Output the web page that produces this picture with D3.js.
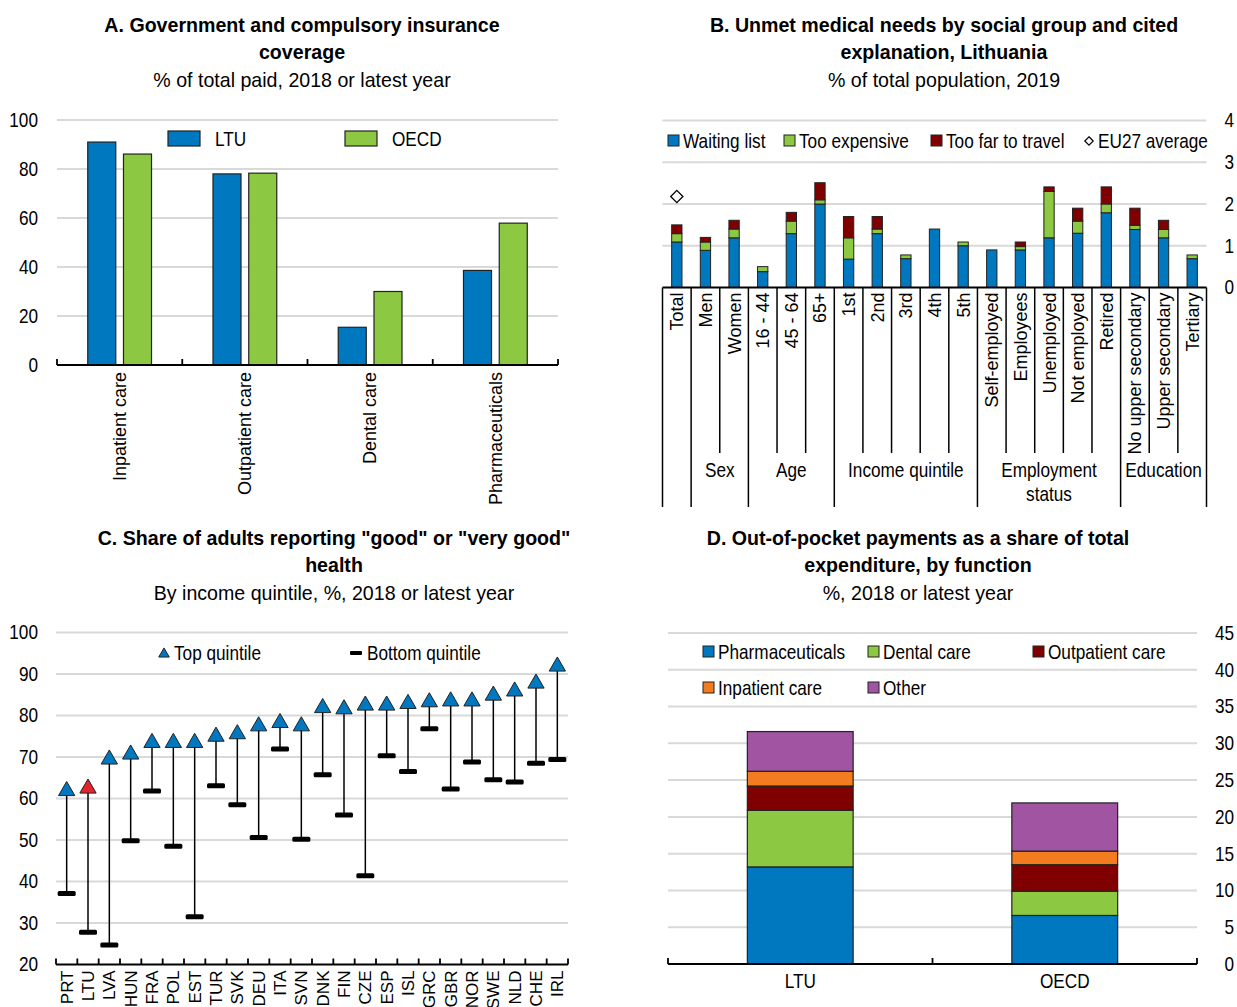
<!DOCTYPE html>
<html>
<head>
<meta charset="utf-8">
<script src="https://cdn.jsdelivr.net/npm/d3@7"></script>
<style>
  body { margin: 0; background: #fff; }
  text { font-family: "Liberation Sans", Arial, sans-serif; fill: #000; }
</style>
</head>
<body>
<svg id="chart" width="1237" height="1007"></svg>
<script>
// --------------------------------------------------------------
// Data

// Panel A
const aCategories = ['Inpatient care', 'Outpatient care', 'Dental care', 'Pharmaceuticals']
const aSeries = ['LTU', 'OECD']
const aLTU = [91, 78, 15.4, 38.6]
const aOECD = [86.1, 78.3, 30, 57.9]

// Panel B
const bCategories = ['Total', 'Men', 'Women', '16 - 44', '45 - 64', '65+', '1st', '2nd', '3rd', '4th', '5th',
  'Self-employed', 'Employees', 'Unemployed', 'Not employed', 'Retired',
  'No upper secondary', 'Upper secondary', 'Tertiary']
const bSeries = ['Waiting list', 'Too expensive', 'Too far to travel']
const bWaiting = [1.09, 0.89, 1.19, 0.38, 1.29, 2.0, 0.68, 1.29, 0.69, 1.4, 1.0, 0.9, 0.9, 1.19, 1.3, 1.79, 1.39, 1.19, 0.69]
const bExpensive = [0.2, 0.2, 0.21, 0.12, 0.3, 0.1, 0.51, 0.11, 0.09, 0, 0.09, 0, 0.08, 1.11, 0.29, 0.21, 0.1, 0.2, 0.09]
const bTravel = [0.21, 0.11, 0.21, 0, 0.21, 0.41, 0.51, 0.3, 0, 0, 0, 0, 0.11, 0.11, 0.31, 0.41, 0.41, 0.22, 0]
const bEU27 = [2.18]  // Total only
const bGroupLabels = ['', 'Sex', 'Age', 'Income quintile', 'Employment|status', 'Education']
const bGroupStarts = [0, 1, 3, 6, 11, 16, 19]

// Panel C
const cCountries = ['PRT', 'LTU', 'LVA', 'HUN', 'FRA', 'POL', 'EST', 'TUR', 'SVK', 'DEU', 'ITA', 'SVN',
  'DNK', 'FIN', 'CZE', 'ESP', 'ISL', 'GRC', 'GBR', 'NOR', 'SWE', 'NLD', 'CHE', 'IRL']
const cTop = [62.4, 63.0, 70.0, 71.2, 74.0, 74.0, 74.0, 75.5, 76.1, 78.0, 78.8, 78.0,
  82.4, 82.1, 83.0, 83.0, 83.4, 83.8, 84.0, 84.0, 85.4, 86.4, 88.3, 92.4]
const cBottom = [37.1, 27.8, 24.7, 49.8, 61.8, 48.5, 31.5, 63.1, 58.5, 50.6, 71.9, 50.2,
  65.7, 56.0, 41.4, 70.3, 66.5, 76.8, 62.3, 68.8, 64.5, 64.0, 68.5, 69.4]

// Panel D
const dCategories = ['LTU', 'OECD']
const dSeries = ['Pharmaceuticals', 'Dental care', 'Outpatient care', 'Inpatient care', 'Other']
const dPharma = [13.2, 6.6]
const dDental = [7.7, 3.3]
const dOutpatient = [3.3, 3.6]
const dInpatient = [2.0, 1.85]
const dOther = [5.4, 6.55]

// --------------------------------------------------------------
// Shared styles

const blue = '#0078c0'
const green = '#8cc841'
const darkRed = '#800000'
const orange = '#f47c20'
const purple = '#a154a1'
const red = '#e3242b'
const gridColor = '#d9d9d9'
const NARROW = 0.86 // squeeze regular sans into an "Arial Narrow" look

const svg = d3.select('#chart')

// move x/y into a transform and squeeze text horizontally
function narrow(sel, k) {
  sel.each(function () {
    const t = d3.select(this)
    const x = +t.attr('x') || 0
    const y = +t.attr('y') || 0
    t.attr('x', 0).attr('y', 0).attr('transform', `translate(${x},${y}) scale(${k},1)`)
  })
}

function label(g, x, y, txt, anchor) {
  return g.append('text').attr('x', x).attr('y', y).attr('font-size', 20)
    .attr('text-anchor', anchor || 'start').text(txt).call(narrow, NARROW)
}

function title(cx, y, lines, sub) {
  const g = svg.append('g')
  lines.forEach((l, i) => {
    g.append('text').attr('x', cx).attr('y', y + i * 27)
      .attr('text-anchor', 'middle').attr('font-size', 20).attr('font-weight', 'bold').text(l)
      .call(narrow, 0.98)
  })
  g.append('text').attr('x', cx).attr('y', y + lines.length * 27 + 1)
    .attr('text-anchor', 'middle').attr('font-size', 20).text(sub)
    .call(narrow, 0.98)
}

function gridlines(g, y, ticks, x0, x1) {
  g.append('g').selectAll('line').data(ticks).join('line')
    .attr('x1', x0).attr('x2', x1)
    .attr('y1', (d) => y(d)).attr('y2', (d) => y(d))
    .attr('stroke', gridColor).attr('stroke-width', 2)
}

// baseline with tick marks at the band boundaries
function baseline(g, x, y0, n, tickLen) {
  const [r0, r1] = x.range()
  g.append('line').attr('x1', r0).attr('x2', r1).attr('y1', y0).attr('y2', y0)
    .attr('stroke', '#000').attr('stroke-width', 2)
  g.append('g').selectAll('line').data(d3.range(n + 1)).join('line')
    .attr('x1', (i) => r0 + (i * (r1 - r0)) / n).attr('x2', (i) => r0 + (i * (r1 - r0)) / n)
    .attr('y1', y0).attr('y2', y0 - tickLen)
    .attr('stroke', '#000').attr('stroke-width', 1.8)
}

// --------------------------------------------------------------
// Panel A

title(302, 32, ['A. Government and compulsory insurance', 'coverage'], '% of total paid, 2018 or latest year')

const ax = d3.scaleBand().domain(aCategories).range([57, 558])
const axInner = d3.scaleBand().domain(aSeries).range([0, ax.bandwidth()]).paddingInner(0.216).paddingOuter(0.86)
const ay = d3.scaleLinear().domain([0, 100]).range([365, 120])
const gA = svg.append('g')

gridlines(gA, ay, d3.range(20, 101, 20), 57, 558)

const aRows = aCategories.map((c, i) => ({ cat: c, LTU: aLTU[i], OECD: aOECD[i] }))
gA.append('g').selectAll('g').data(aRows).join('g')
  .attr('transform', (d) => `translate(${ax(d.cat)},0)`)
  .selectAll('rect')
  .data((d) => aSeries.map((s) => ({ s: s, v: d[s] })))
  .join('rect')
  .attr('x', (d) => axInner(d.s))
  .attr('width', axInner.bandwidth())
  .attr('y', (d) => ay(d.v))
  .attr('height', (d) => ay(0) - ay(d.v))
  .attr('fill', (d) => (d.s === 'LTU' ? blue : green))
  .attr('stroke', '#222').attr('stroke-width', 1.2)

gA.append('g')
  .call(d3.axisLeft(ay).tickValues(d3.range(0, 101, 20)).tickSize(0))
  .call((g) => g.select('.domain').remove())
  .selectAll('text').attr('font-size', 20).attr('x', 38).attr('text-anchor', 'end')
  .call(narrow, NARROW)

gA.append('g').attr('transform', `translate(0,${ay(0)})`)
  .call(d3.axisBottom(ax).tickSize(0))
  .call((g) => g.select('.domain').remove())
  .selectAll('text').attr('font-size', 18)
  .attr('transform', 'rotate(-90)').attr('text-anchor', 'end')
  .attr('x', -7).attr('y', 0).attr('dy', '0.35em')

baseline(gA, ax, ay(0), aCategories.length, 6)

// legend A
aSeries.forEach((s, i) => {
  const lx = 168 + i * 177
  gA.append('rect').attr('x', lx).attr('y', 131).attr('width', 32).attr('height', 15)
    .attr('fill', i === 0 ? blue : green).attr('stroke', '#222').attr('stroke-width', 1.2)
  label(gA, lx + 47, 146, s)
})

// --------------------------------------------------------------
// Panel B

title(944, 32, ['B. Unmet medical needs by social group and cited', 'explanation, Lithuania'], '% of total population, 2019')

const bx = d3.scaleBand().domain(bCategories).range([662.5, 1206.5]).paddingInner(0.64).paddingOuter(0.32)
const by = d3.scaleLinear().domain([0, 4]).range([287.5, 120.5])
const gB = svg.append('g')

gridlines(gB, by, [1, 2, 3, 4], 662.5, 1206.5)

const bRows = bCategories.map((c, i) => ({
  cat: c, 'Waiting list': bWaiting[i], 'Too expensive': bExpensive[i], 'Too far to travel': bTravel[i]
}))
const bStack = d3.stack().keys(bSeries)(bRows)
const bColor = d3.scaleOrdinal().domain(bSeries).range([blue, green, darkRed])

gB.append('g').selectAll('g').data(bStack).join('g')
  .attr('fill', (d) => bColor(d.key))
  .selectAll('rect')
  .data((d) => d.filter((p) => p[1] - p[0] > 0))
  .join('rect')
  .attr('x', (d) => bx(d.data.cat))
  .attr('width', bx.bandwidth())
  .attr('y', (d) => by(d[1]))
  .attr('height', (d) => by(d[0]) - by(d[1]))
  .attr('stroke', '#222').attr('stroke-width', 1)

// EU27 diamond
gB.append('g').selectAll('path').data(bEU27).join('path')
  .attr('d', d3.symbol(d3.symbolDiamond2, 95))
  .attr('transform', (d, i) => `translate(${bx(bCategories[i]) + bx.bandwidth() / 2},${by(d)})`)
  .attr('fill', '#fff').attr('stroke', '#000').attr('stroke-width', 1.3)

// right axis B
gB.append('g').attr('transform', 'translate(1237,0)')
  .call(d3.axisLeft(by).ticks(4).tickSize(0))
  .call((g) => g.select('.domain').remove())
  .selectAll('text').attr('font-size', 20).attr('x', -3).attr('text-anchor', 'end')
  .call(narrow, NARROW)

// category labels B
gB.append('g').attr('transform', `translate(0,${by(0)})`)
  .call(d3.axisBottom(bx).tickSize(0))
  .call((g) => g.select('.domain').remove())
  .selectAll('text').attr('font-size', 18)
  .attr('transform', 'rotate(-90)').attr('text-anchor', 'end')
  .attr('x', -5).attr('y', 0).attr('dy', '0.36em')

// axis line + separators
gB.append('line').attr('x1', 662.5).attr('x2', 1206.5).attr('y1', by(0)).attr('y2', by(0))
  .attr('stroke', '#000').attr('stroke-width', 2)
const bStep = bx.step()
gB.append('g').selectAll('line').data(d3.range(bCategories.length + 1)).join('line')
  .attr('x1', (i) => 662.5 + i * bStep).attr('x2', (i) => 662.5 + i * bStep)
  .attr('y1', by(0))
  .attr('y2', (i) => (bGroupStarts.includes(i) ? 507 : 453))
  .attr('stroke', '#000').attr('stroke-width', 1.5)

// group labels
bGroupLabels.forEach((lab, gi) => {
  if (!lab) return
  const gx = 662.5 + ((bGroupStarts[gi] + bGroupStarts[gi + 1]) / 2) * bStep
  lab.split('|').forEach((part, li) => label(gB, gx, 477 + li * 24, part, 'middle'))
})

// legend B
const bLegendX = [668, 784, 931]
bSeries.forEach((s, i) => {
  gB.append('rect').attr('x', bLegendX[i]).attr('y', 135).attr('width', 11).attr('height', 11)
    .attr('fill', bColor(s)).attr('stroke', '#222').attr('stroke-width', 1)
  label(gB, bLegendX[i] + 15, 148, s)
})
gB.append('path').attr('d', d3.symbol(d3.symbolDiamond2, 45))
  .attr('transform', 'translate(1089,141)')
  .attr('fill', '#fff').attr('stroke', '#000').attr('stroke-width', 1.2)
label(gB, 1098, 148, 'EU27 average')

// --------------------------------------------------------------
// Panel C

title(334, 545, ['C. Share of adults reporting "good" or "very good"', 'health'], 'By income quintile, %, 2018 or latest year')

const cx = d3.scaleBand().domain(cCountries).range([56, 568])
const cy = d3.scaleLinear().domain([20, 100]).range([964.5, 632.5])
const gC = svg.append('g')

gridlines(gC, cy, d3.range(30, 101, 10), 56, 568)

gC.append('g')
  .call(d3.axisLeft(cy).tickValues(d3.range(20, 101, 10)).tickSize(0))
  .call((g) => g.select('.domain').remove())
  .selectAll('text').attr('font-size', 20).attr('x', 38).attr('text-anchor', 'end')
  .call(narrow, NARROW)

const cRows = cCountries.map((c, i) => ({ c: c, top: cTop[i], bottom: cBottom[i] }))
const cCenter = (d) => cx(d.c) + cx.bandwidth() / 2

gC.append('g').selectAll('line').data(cRows).join('line')
  .attr('x1', cCenter).attr('x2', cCenter)
  .attr('y1', (d) => cy(d.top)).attr('y2', (d) => cy(d.bottom))
  .attr('stroke', '#000').attr('stroke-width', 1.5)

gC.append('g').selectAll('rect').data(cRows).join('rect')
  .attr('x', (d) => cCenter(d) - 9).attr('y', (d) => cy(d.bottom) - 2.5)
  .attr('width', 18).attr('height', 5).attr('rx', 1.5)
  .attr('fill', '#000')

const triSize = 115
const triShift = Math.sqrt(triSize / (3 * Math.sqrt(3))) / 2
gC.append('g').selectAll('path').data(cRows).join('path')
  .attr('d', d3.symbol(d3.symbolTriangle, triSize))
  .attr('transform', (d) => `translate(${cCenter(d)},${cy(d.top) + triShift})`)
  .attr('fill', (d) => (d.c === 'LTU' ? red : blue))
  .attr('stroke', '#222').attr('stroke-width', 1)

gC.append('g').attr('transform', `translate(0,${cy(20)})`)
  .call(d3.axisBottom(cx).tickSize(0))
  .call((g) => g.select('.domain').remove())
  .selectAll('text').attr('font-size', 17)
  .attr('transform', 'rotate(-90)').attr('text-anchor', 'end')
  .attr('x', -6).attr('y', 0).attr('dy', '0.36em')

baseline(gC, cx, cy(20), cCountries.length, 6)

// legend C
gC.append('path').attr('d', d3.symbol(d3.symbolTriangle, 48))
  .attr('transform', 'translate(164,654)')
  .attr('fill', blue).attr('stroke', '#222').attr('stroke-width', 1)
label(gC, 174, 660, 'Top quintile')
gC.append('rect').attr('x', 350).attr('y', 651).attr('width', 12).attr('height', 4).attr('rx', 1).attr('fill', '#000')
label(gC, 367, 660, 'Bottom quintile')

// --------------------------------------------------------------
// Panel D

title(918, 545, ['D. Out-of-pocket payments as a share of total', 'expenditure, by function'], '%, 2018 or latest year')

const dx = d3.scaleBand().domain(dCategories).range([668, 1197]).paddingInner(0.6).paddingOuter(0.3)
const dy = d3.scaleLinear().domain([0, 45]).range([964, 633])
const gD = svg.append('g')

gridlines(gD, dy, d3.range(5, 46, 5), 668, 1197)

const dRows = dCategories.map((c, i) => ({
  cat: c, Pharmaceuticals: dPharma[i], 'Dental care': dDental[i], 'Outpatient care': dOutpatient[i],
  'Inpatient care': dInpatient[i], Other: dOther[i]
}))
const dStack = d3.stack().keys(dSeries)(dRows)
const dColor = d3.scaleOrdinal().domain(dSeries).range([blue, green, darkRed, orange, purple])

gD.append('g').selectAll('g').data(dStack).join('g')
  .attr('fill', (d) => dColor(d.key))
  .selectAll('rect').data((d) => d).join('rect')
  .attr('x', (d) => dx(d.data.cat))
  .attr('width', dx.bandwidth())
  .attr('y', (d) => dy(d[1]))
  .attr('height', (d) => dy(d[0]) - dy(d[1]))
  .attr('stroke', '#222').attr('stroke-width', 1.2)

gD.append('g').attr('transform', 'translate(1237,0)')
  .call(d3.axisLeft(dy).tickValues(d3.range(0, 46, 5)).tickSize(0))
  .call((g) => g.select('.domain').remove())
  .selectAll('text').attr('font-size', 20).attr('x', -3).attr('text-anchor', 'end')
  .call(narrow, NARROW)

gD.append('g').attr('transform', `translate(0,${dy(0)})`)
  .call(d3.axisBottom(dx).tickSize(0))
  .call((g) => g.select('.domain').remove())
  .selectAll('text').attr('font-size', 20).attr('y', 10)
  .call(narrow, NARROW)

// D has a tick only at the ends and the middle
const dRange = dx.range()
gD.append('line').attr('x1', dRange[0]).attr('x2', dRange[1]).attr('y1', dy(0)).attr('y2', dy(0))
  .attr('stroke', '#000').attr('stroke-width', 2)
gD.append('g').selectAll('line').data([0, 1, 2]).join('line')
  .attr('x1', (i) => dRange[0] + (i * (dRange[1] - dRange[0])) / 2)
  .attr('x2', (i) => dRange[0] + (i * (dRange[1] - dRange[0])) / 2)
  .attr('y1', dy(0)).attr('y2', dy(0) - 6)
  .attr('stroke', '#000').attr('stroke-width', 1.8)

// legend D
const dLegendPos = [[703, 652], [868, 652], [1033, 652], [703, 688], [868, 688]]
dSeries.forEach((s, i) => {
  const [lx, ly] = dLegendPos[i]
  gD.append('rect').attr('x', lx).attr('y', ly - 6).attr('width', 11).attr('height', 11)
    .attr('fill', dColor(s)).attr('stroke', '#222').attr('stroke-width', 1)
  label(gD, lx + 15, ly + 7, s)
})
</script>
</body>
</html>
